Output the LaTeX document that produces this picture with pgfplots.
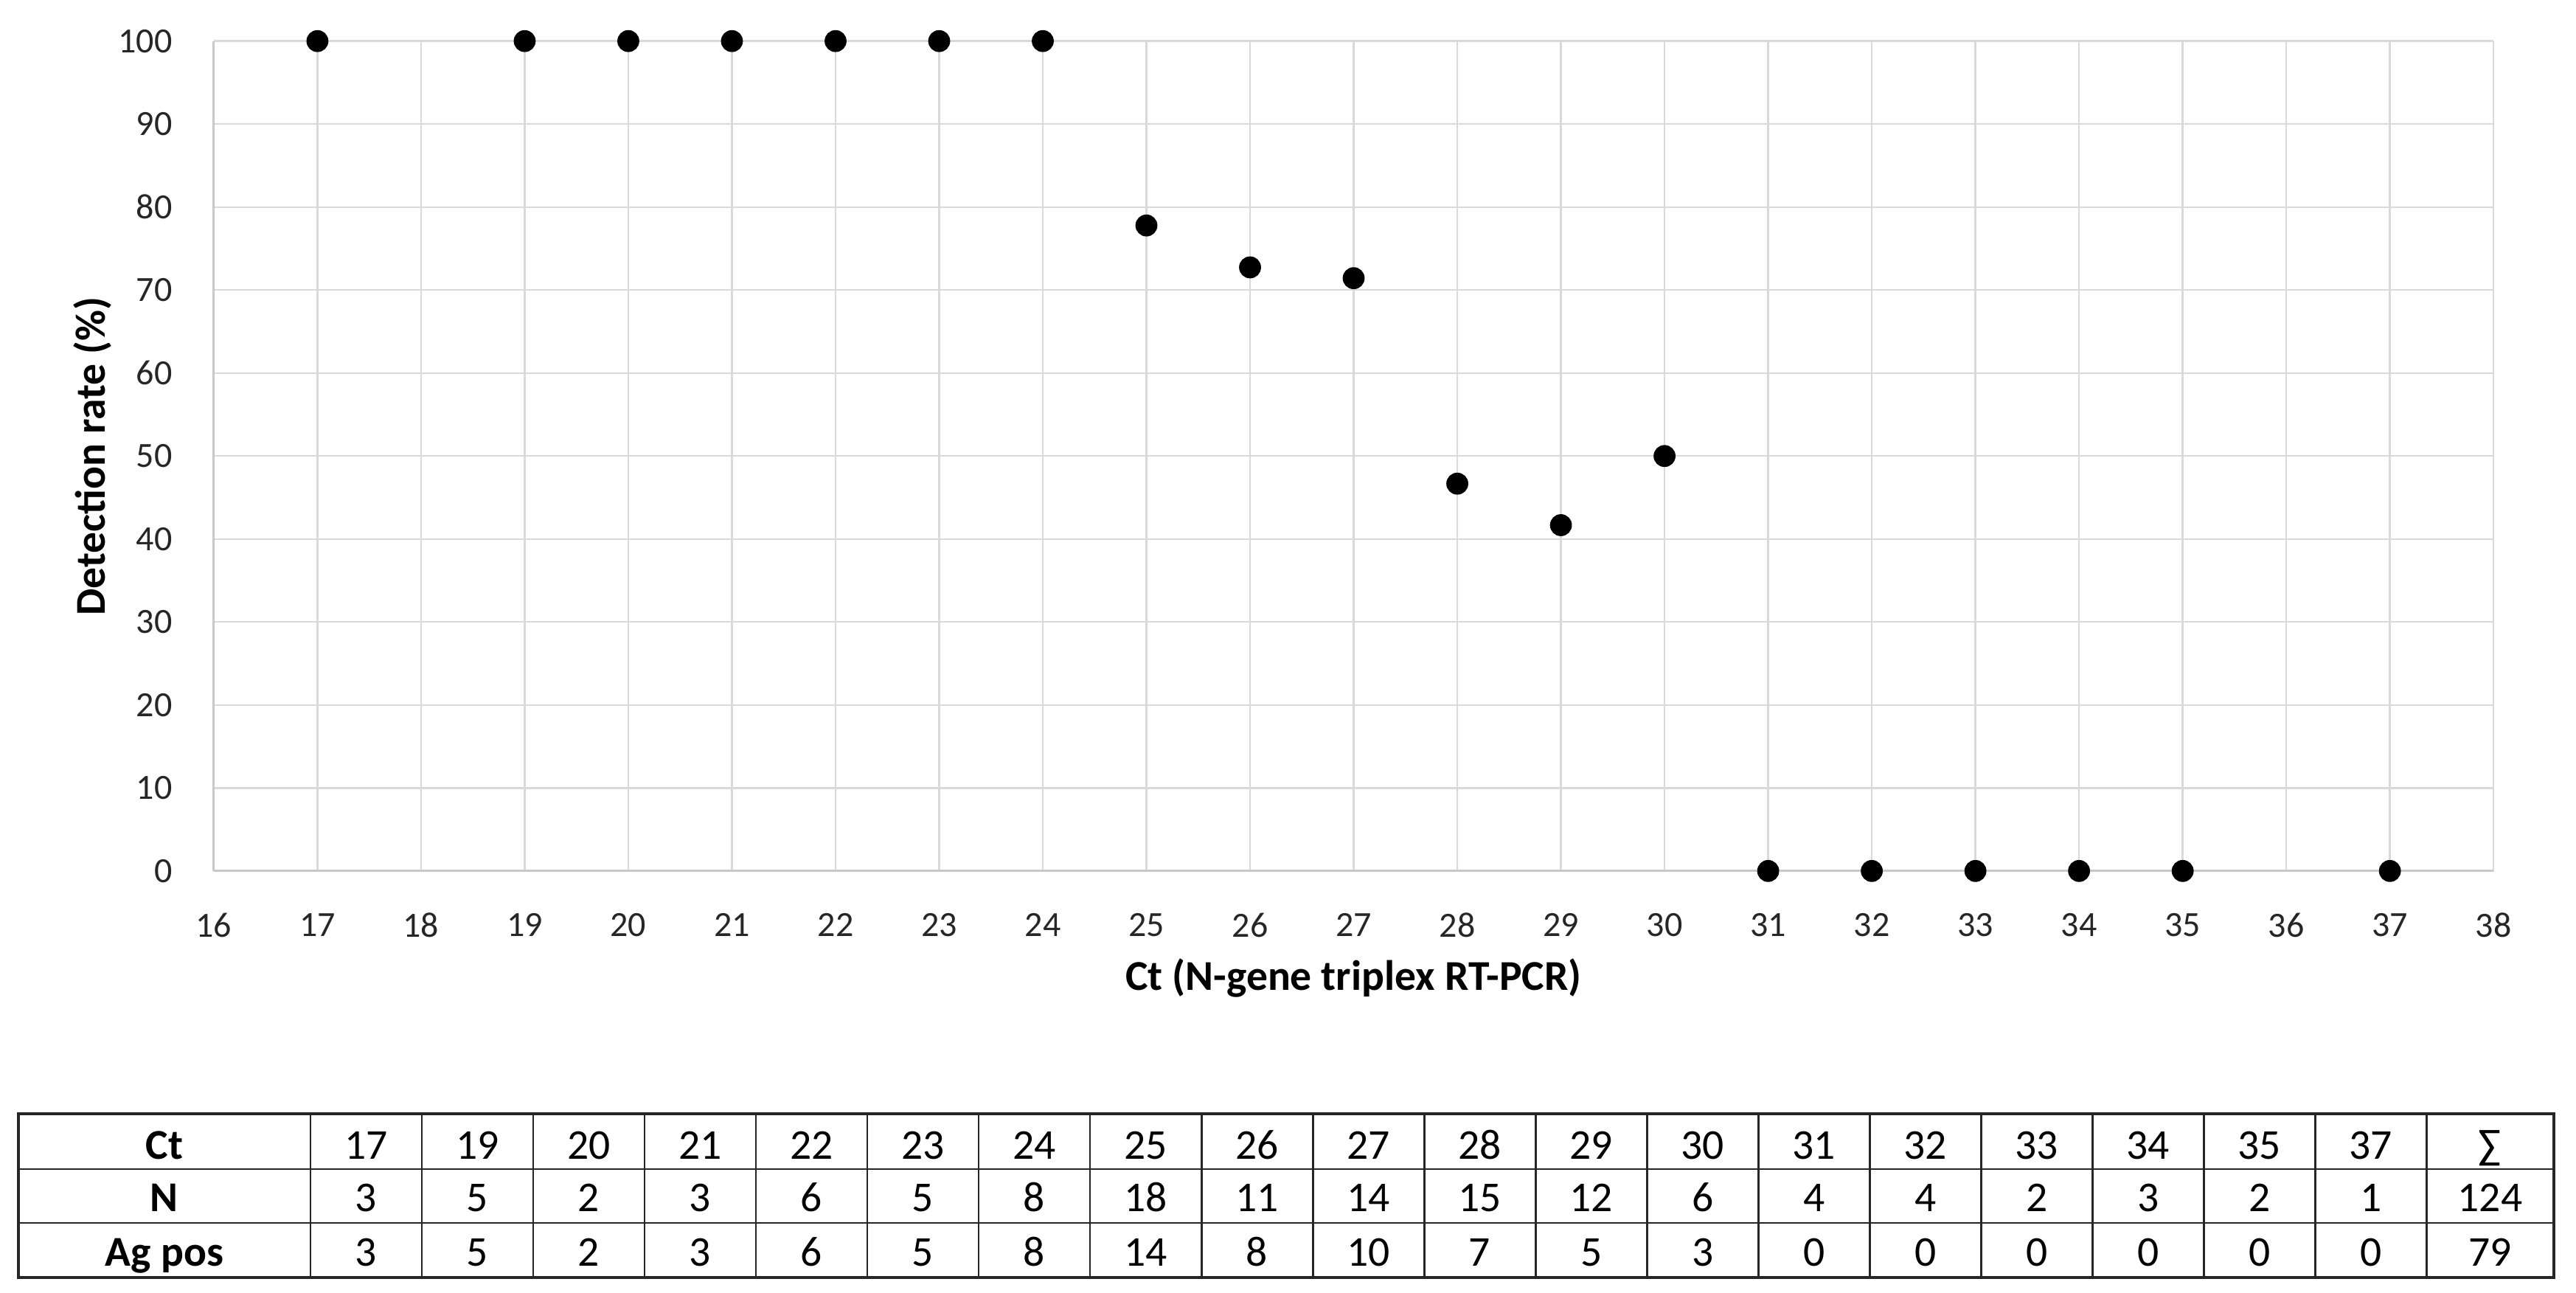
\documentclass[border=0pt]{standalone}
\usepackage{fontspec}
\setmainfont{Carlito}
\usepackage{pgfplots}
\pgfplotsset{compat=1.18}
\definecolor{gridgray}{HTML}{D9D9D9}
\definecolor{axisgray}{HTML}{C8C8C8}
\definecolor{labelgray}{HTML}{262626}
\begin{document}
\begin{tikzpicture}
\useasboundingbox (0,0) rectangle (727.7pt,365.0pt);
\begin{axis}[
    at={(60.4pt,119.0pt)}, anchor=south west,
    scale only axis, width=644pt, height=234.4pt,
    xmin=16, xmax=38, ymin=0, ymax=100,
    xtick={16,...,38}, ytick={0,10,...,100},
    axis lines=left,
    axis line style={draw=axisgray, line width=0.6pt, -},
    tick style={draw=none},
    grid=major,
    major grid style={draw=gridgray, line width=0.5pt},
    /pgf/number format/assume math mode=true,
    ticklabel style={font=\fontsize{10}{12}\selectfont, text=labelgray},
    xticklabel style={anchor=north, inner sep=0pt, yshift=-9.6pt},
    yticklabel style={anchor=east, inner sep=0pt, xshift=-9.4pt},
    xlabel={Ct (N-gene triplex RT-PCR)},
    ylabel={Detection rate (\%)},
    label style={font=\fontsize{12}{14}\selectfont\bfseries},
    xlabel style={at={(axis description cs:0.5,-0.1438)}, anchor=base, inner sep=0pt},
    ylabel style={at={(axis description cs:-0.0478,0.5)}, anchor=base, inner sep=0pt},
    clip=false,
]
\addplot[only marks, mark=*, mark size=2.9pt, black] coordinates {
    (17,100) (19,100) (20,100) (21,100) (22,100) (23,100) (24,100)
    (25,77.78) (26,72.73) (27,71.43) (28,46.67) (29,41.67) (30,50)
    (31,0) (32,0) (33,0) (34,0) (35,0) (37,0)
};
\end{axis}
% table below the chart
\def\ctlist{17,19,20,21,22,23,24,25,26,27,28,29,30,31,32,33,34,35,37}
\def\nlist{3,5,2,3,6,5,8,18,11,14,15,12,6,4,4,2,3,2,1}
\def\aglist{3,5,2,3,6,5,8,14,8,10,7,5,3,0,0,0,0,0,0}
\begin{scope}[font=\fontsize{12}{14}\selectfont]
  \foreach \y in {34.8,19.6}
    \draw[line width=0.6pt, black!85] (5.2pt,\y pt) -- (721.4pt,\y pt);
  \foreach \i in {0,...,19}
    \draw[line width=0.6pt, black!85] (87.7pt+\i*31.46pt,4.2pt) -- (87.7pt+\i*31.46pt,50.4pt);
  \draw[line width=0.9pt, black!85] (5.2pt,4.2pt) rectangle (721.4pt,50.4pt);
  \node[anchor=base, font=\fontsize{12}{14}\selectfont\bfseries] at (46.45pt,37.7pt) {Ct};
  \node[anchor=base, font=\fontsize{12}{14}\selectfont\bfseries] at (46.45pt,22.9pt) {N};
  \node[anchor=base, font=\fontsize{12}{14}\selectfont\bfseries] at (46.45pt,7.5pt) {Ag pos};
  \foreach \v [count=\i] in \ctlist
    \node[anchor=base] at (87.7pt+\i*31.46pt-15.73pt,37.7pt) {\v};
  \foreach \v [count=\i] in \nlist
    \node[anchor=base] at (87.7pt+\i*31.46pt-15.73pt,22.9pt) {\v};
  \foreach \v [count=\i] in \aglist
    \node[anchor=base] at (87.7pt+\i*31.46pt-15.73pt,7.5pt) {\v};
  \node[anchor=base] at (703.4pt,37.7pt) {∑};
  \node[anchor=base] at (703.4pt,22.9pt) {124};
  \node[anchor=base] at (703.4pt,7.5pt) {79};
\end{scope}
\end{tikzpicture}
\end{document}
